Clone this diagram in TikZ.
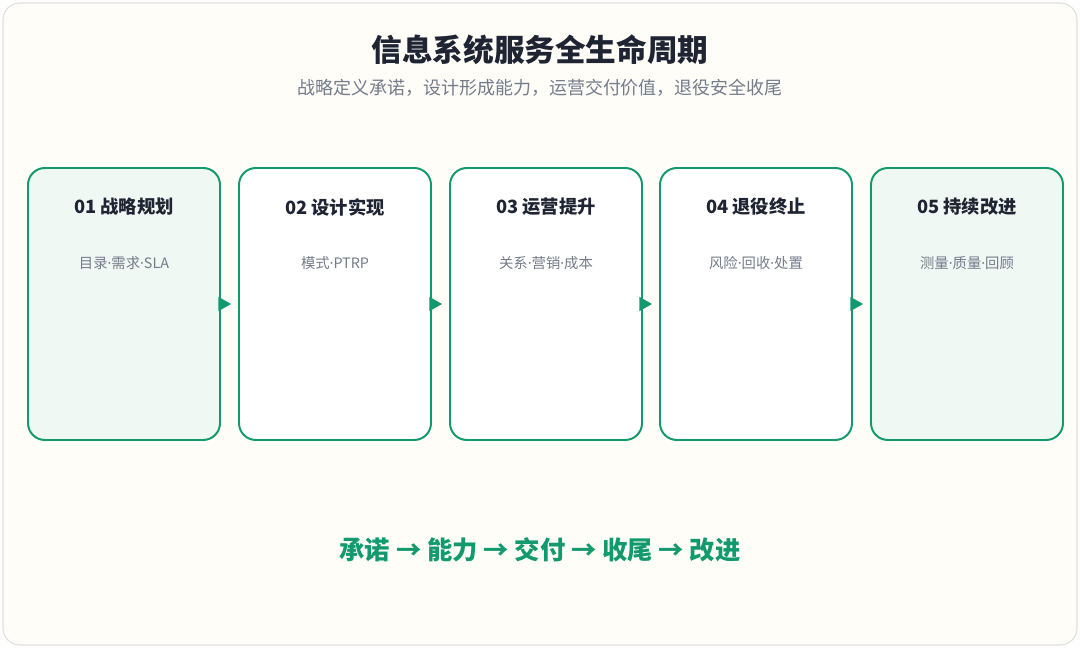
\documentclass[tikz,border=0pt]{standalone}
\usepackage{fontspec}
\setmainfont{Noto Sans CJK SC}
\newfontfamily\dotfont{Noto Sans}
\newcommand{\sep}{{\dotfont\textperiodcentered}}
\usetikzlibrary{arrows.meta,positioning}
\definecolor{stagegreen}{HTML}{129A6E}
\definecolor{stagetint}{HTML}{F0F8F4}
\definecolor{pagebg}{HTML}{FEFDF8}
\definecolor{titleink}{HTML}{1F2433}
\definecolor{noteink}{HTML}{747B8A}
\tikzset{
  stage/.style={draw=stagegreen, line width=1.4pt, rounded corners=12pt, fill=white,
    minimum width=192*0.025cm, minimum height=272*0.025cm, inner sep=0pt},
  tinted/.style={stage, fill=stagetint},
  heading/.style={font=\fontsize{13}{15}\selectfont\bfseries, text=titleink},
  note/.style={font=\fontsize{10.2}{12}\selectfont, text=noteink},
  flow/.style={draw=stagegreen, line width=1pt, -{Triangle[length=9pt,width=10pt]}, shorten >=5pt}
}
\begin{document}
\begin{tikzpicture}[x=0.025cm,y=-0.025cm]
  % page
  \useasboundingbox (0,0) rectangle (1080,648);
  \draw[draw=black!12, fill=pagebg, rounded corners=12pt, line width=0.8pt] (3,3) rectangle (1077,645);
  % title
  \node[font=\fontsize{21.8}{26}\selectfont\bfseries, text=titleink] (title) at (540,50) {信息系统服务全生命周期};
  \node[font=\fontsize{12.8}{15}\selectfont, text=noteink] (subtitle) at (540,88) {战略定义承诺，设计形成能力，运营交付价值，退役安全收尾};
  % stages
  \node[tinted] (plan) at (124,304) {};
  \node[stage] (build) at (335,304) {};
  \node[stage] (run) at (546,304) {};
  \node[stage] (retire) at (756,304) {};
  \node[tinted] (improve) at (967,304) {};
  \foreach \s/\h/\n in {plan/01 战略规划/目录\sep 需求\sep SLA, build/02 设计实现/模式\sep PTRP,
      run/03 运营提升/关系\sep 营销\sep 成本, retire/04 退役终止/风险\sep 回收\sep 处置,
      improve/05 持续改进/测量\sep 质量\sep 回顾} {
    \node[heading, anchor=center] (\s-head) at ([yshift=-40*0.025cm]\s.north) {\h};
    \node[note, anchor=center] (\s-note) at ([yshift=-96*0.025cm]\s.north) {\n};
  }
  % connectors
  \draw[flow] (plan.east) -- (build.west);
  \draw[flow] (build.east) -- (run.west);
  \draw[flow] (run.east) -- (retire.west);
  \draw[flow] (retire.east) -- (improve.west);
  % summary
  \node[font=\fontsize{18}{21}\selectfont\bfseries, text=stagegreen] (summary) at (540,550) {承诺 → 能力 → 交付 → 收尾 → 改进};
\end{tikzpicture}
\end{document}
